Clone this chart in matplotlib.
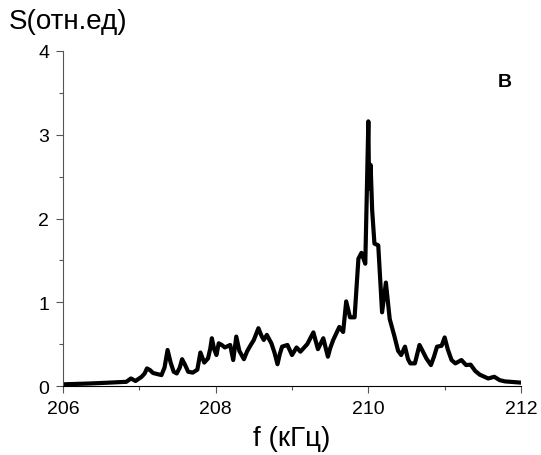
import matplotlib
matplotlib.use('Agg')
import matplotlib.pyplot as plt
from matplotlib.ticker import MultipleLocator

plt.rcParams['font.family'] = ['Liberation Sans', 'DejaVu Sans']

# значения
f = [206.0, 206.35, 206.6, 206.83, 206.89, 206.95, 207.03, 207.07, 207.10, 207.14,
     207.18, 207.29, 207.33, 207.37, 207.41, 207.45, 207.49, 207.53, 207.56, 207.60,
     207.64, 207.70, 207.76, 207.80, 207.85, 207.90, 207.93, 207.95, 207.98, 208.01,
     208.04, 208.08, 208.12, 208.19, 208.23, 208.27, 208.31, 208.37, 208.41, 208.44,
     208.50, 208.56, 208.60, 208.63, 208.67, 208.73, 208.77, 208.81, 208.84, 208.87,
     208.94, 209.00, 209.06, 209.11, 209.20, 209.28, 209.34, 209.41, 209.44, 209.47,
     209.50, 209.54, 209.62, 209.67, 209.71, 209.76, 209.82, 209.87, 209.91, 209.96,
     209.98, 210.00, 210.01, 210.03, 210.05, 210.08, 210.13, 210.18, 210.23, 210.28,
     210.34, 210.39, 210.43, 210.48, 210.52, 210.55, 210.61, 210.64, 210.67, 210.71,
     210.76, 210.82, 210.86, 210.90, 210.96, 211.00, 211.04, 211.09, 211.14, 211.22,
     211.28, 211.34, 211.40, 211.46, 211.57, 211.65, 211.72, 211.79, 212.0]
S = [0.02, 0.03, 0.04, 0.05, 0.09, 0.06, 0.11, 0.15, 0.21, 0.19,
     0.155, 0.13, 0.22, 0.43, 0.28, 0.17, 0.15, 0.22, 0.32, 0.25,
     0.17, 0.16, 0.195, 0.40, 0.28, 0.33, 0.45, 0.57, 0.44, 0.37,
     0.51, 0.49, 0.46, 0.49, 0.31, 0.59, 0.42, 0.32, 0.41, 0.46,
     0.55, 0.69, 0.60, 0.55, 0.61, 0.51, 0.40, 0.26, 0.38, 0.47,
     0.49, 0.37, 0.46, 0.41, 0.50, 0.64, 0.44, 0.57, 0.46, 0.35,
     0.45, 0.55, 0.705, 0.645, 1.01, 0.82, 0.82, 1.52, 1.59, 1.46,
     2.3, 3.16, 2.36, 2.64, 2.1, 1.70, 1.68, 0.88, 1.235, 0.80,
     0.6, 0.42, 0.37, 0.47, 0.32, 0.27, 0.27, 0.38, 0.49, 0.42,
     0.33, 0.25, 0.35, 0.47, 0.48, 0.58, 0.44, 0.31, 0.27, 0.31,
     0.25, 0.255, 0.18, 0.135, 0.09, 0.11, 0.07, 0.055, 0.04]

fig = plt.figure(figsize=(5.41, 4.56), dpi=100)
ax = fig.add_axes([63/541, 1-387/456, (521-63)/541, (387-52)/456])

ax.plot(f, S, c='black', lw=3, solid_joinstyle='round')

ax.set_xlim(206, 212)
ax.set_ylim(0, 4)
ax.xaxis.set_major_locator(MultipleLocator(2))
ax.xaxis.set_minor_locator(MultipleLocator(1))
ax.yaxis.set_major_locator(MultipleLocator(1))
ax.yaxis.set_minor_locator(MultipleLocator(0.5))
ax.tick_params(which='major', length=5, width=0.8, color='#555555', labelsize=14, pad=5)
ax.tick_params(which='minor', length=3, width=0.8, color='#555555')

ax.spines['top'].set_visible(False)
ax.spines['right'].set_visible(False)
ax.spines['left'].set_color('#555555')

ax.set_xlabel('f (кГц)', fontsize=20, labelpad=6)
fig.text(9/541, 1-29/456, 'S(отн.ед)', fontsize=20)
fig.text(498/541, 1-87/456, 'В', fontsize=14, fontweight='bold')

fig.savefig('out.png', dpi=100)
